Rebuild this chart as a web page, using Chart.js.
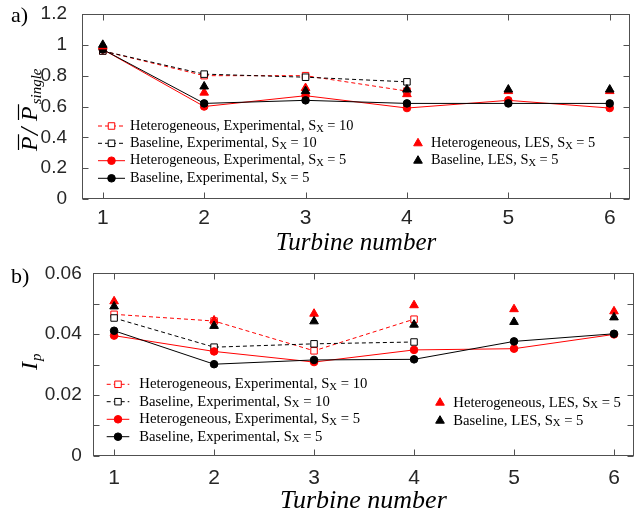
<!DOCTYPE html>
<html>
<head>
<meta charset="utf-8">
<script src="https://cdn.jsdelivr.net/npm/chart.js@4.4.0/dist/chart.umd.min.js"></script>
<style>
  html, body { margin: 0; padding: 0; background: #fff; }
  body { position: relative; width: 636px; height: 517px; overflow: hidden; }
  canvas { position: absolute; left: 0; }
</style>
</head>
<body>
<canvas id="panelA" width="636" height="256" style="top:0"></canvas>
<canvas id="panelB" width="640" height="261" style="top:256px"></canvas>
<script>
// turbine positions along the row
const turbines = [1, 2, 3, 4, 5, 6];

// a) mean power normalised by a single turbine
const powerTicks = [0, 0.2, 0.4, 0.6, 0.8, 1, 1.2];
const powHetExp10 = [0.96, 0.80, 0.80, 0.70];
const powBaseExp10 = [0.96, 0.81, 0.79, 0.76];
const powHetExp5 = [0.97, 0.60, 0.67, 0.59, 0.64, 0.59];
const powBaseExp5 = [0.97, 0.62, 0.64, 0.62, 0.62, 0.62];
const powHetLes5 = [0.99, 0.69, 0.72, 0.68, 0.70, 0.70];
const powBaseLes5 = [1.00, 0.73, 0.70, 0.71, 0.71, 0.71];

// b) power fluctuation intensity
const ipTicks = [0, 0.01, 0.02, 0.03, 0.04, 0.05, 0.06];
const ipTickLabels = ['0', '', '0.02', '', '0.04', '', '0.06'];
const ipHetExp10 = [0.0465, 0.0443, 0.0345, 0.0449];
const ipBaseExp10 = [0.0453, 0.0357, 0.0368, 0.0374];
const ipHetExp5 = [0.0395, 0.0343, 0.0308, 0.0348, 0.0352, 0.0399];
const ipBaseExp5 = [0.0411, 0.0301, 0.0315, 0.0317, 0.0376, 0.0401];
const ipHetLes5 = [0.0508, 0.0445, 0.0467, 0.0495, 0.0482, 0.0475];
const ipBaseLes5 = [0.0491, 0.0427, 0.0442, 0.0431, 0.0440, 0.0455];

const labels = [
  'Heterogeneous, Experimental, S_X = 10',
  'Baseline, Experimental, S_X = 10',
  'Heterogeneous, Experimental, S_X = 5',
  'Baseline, Experimental, S_X = 5',
  'Heterogeneous, LES, S_X = 5',
  'Baseline, LES, S_X = 5'
];

const RED = '#ff0000';
const BLACK = '#000000';
const TICK_COLOR = '#262626';
const BOX_COLOR = '#505050';
const SERIF = '"Liberation Serif", "Times New Roman", serif';
const SANS = '"Liberation Sans", Arial, sans-serif';

function makeDataset(label, values, color, kind, order) {
  const ds = {
    label: label,
    order: order,
    data: values.map((v, i) => ({ x: turbines[i], y: v })),
    borderColor: color,
    pointBorderColor: color,
    borderWidth: 1,
    pointBorderWidth: 1,
    tension: 0,
    fill: false,
    pointHoverRadius: 0
  };
  if (kind === 'dashed') {
    Object.assign(ds, { borderDash: [4, 3], pointStyle: 'rect', pointRadius: 4.6, pointBackgroundColor: '#ffffff', showLine: true });
  } else if (kind === 'solid') {
    Object.assign(ds, { pointStyle: 'circle', pointRadius: 3.8, pointBackgroundColor: color, showLine: true });
  } else {
    Object.assign(ds, { pointStyle: 'triangle', pointRadius: 5, pointBackgroundColor: color, showLine: false });
  }
  return ds;
}

function buildDatasets(het10, base10, het5, base5, hetLes, baseLes) {
  return [
    makeDataset(labels[0], het10, RED, 'dashed', 6),
    makeDataset(labels[1], base10, BLACK, 'dashed', 5),
    makeDataset(labels[2], het5, RED, 'solid', 4),
    makeDataset(labels[3], base5, BLACK, 'solid', 3),
    makeDataset(labels[4], hetLes, RED, 'marker', 2),
    makeDataset(labels[5], baseLes, BLACK, 'marker', 1)
  ];
}

// legend text with the small-caps subscript X
function drawLegendText(ctx, label, x, y, size) {
  const parts = label.split('_X');
  ctx.fillStyle = '#000';
  ctx.textAlign = 'left';
  ctx.textBaseline = 'middle';
  ctx.font = size + 'px ' + SERIF;
  ctx.fillText(parts[0], x, y);
  x += ctx.measureText(parts[0]).width;
  ctx.font = (size * 0.72) + 'px ' + SERIF;
  ctx.fillText('X', x, y + size * 0.2);
  x += ctx.measureText('X').width;
  ctx.font = size + 'px ' + SERIF;
  ctx.fillText(parts[1], x, y);
}

function drawSample(ctx, ds, x0, x1, xm, y) {
  ctx.save();
  if (ds.showLine) {
    ctx.strokeStyle = ds.borderColor;
    ctx.lineWidth = ds.borderWidth;
    ctx.setLineDash(ds.borderDash || []);
    ctx.beginPath();
    ctx.moveTo(x0, y);
    ctx.lineTo(x1, y);
    ctx.stroke();
    ctx.setLineDash([]);
  }
  ctx.fillStyle = ds.pointBackgroundColor;
  ctx.strokeStyle = ds.pointBorderColor;
  ctx.lineWidth = ds.pointBorderWidth;
  Chart.helpers.drawPoint(ctx, { pointStyle: ds.pointStyle, radius: ds.pointRadius, borderWidth: ds.pointBorderWidth, rotation: 0 }, xm, y);
  ctx.restore();
}

// box, inward ticks, legend and axis titles
const panelDecor = {
  id: 'panelDecor',
  afterDatasetsDraw(chart, args, opts) {
    const ctx = chart.ctx;
    const area = chart.chartArea;
    const xs = chart.scales.x, ys = chart.scales.y;
    const L = Math.round(area.left) + 0.5, R = Math.round(area.right) - 0.5;
    const T = Math.round(area.top) + 0.5, B = Math.round(area.bottom) - 0.5;
    ctx.save();
    ctx.strokeStyle = BOX_COLOR;
    ctx.lineWidth = 1;
    ctx.strokeRect(L, T, R - L, B - T);
    ctx.beginPath();
    xs.ticks.forEach(t => {
      const px = Math.round(xs.getPixelForValue(t.value)) + 0.5;
      ctx.moveTo(px, B); ctx.lineTo(px, B - 6);
      ctx.moveTo(px, T); ctx.lineTo(px, T + 6);
    });
    ys.ticks.forEach(t => {
      const py = Math.round(ys.getPixelForValue(t.value)) + 0.5;
      ctx.moveTo(L, py); ctx.lineTo(L + 6, py);
      ctx.moveTo(R, py); ctx.lineTo(R - 6, py);
    });
    ctx.stroke();

    // legend
    const lg = opts.legend;
    const sets = chart.data.datasets;
    lg.left.rows.forEach((ry, i) => {
      drawSample(ctx, sets[i], lg.left.x0, lg.left.x1, lg.left.xm, ry);
      drawLegendText(ctx, sets[i].label, lg.left.text, ry, lg.size);
    });
    lg.right.rows.forEach((ry, i) => {
      const ds = sets[4 + i];
      drawSample(ctx, ds, 0, 0, lg.right.xm, ry);
      drawLegendText(ctx, ds.label, lg.right.text, ry, lg.size);
    });

    // panel tag
    ctx.fillStyle = '#000';
    ctx.textAlign = 'left';
    ctx.textBaseline = 'alphabetic';
    ctx.font = '22px ' + SERIF;
    ctx.fillText(opts.tag.text, opts.tag.x, opts.tag.y);

    // x title
    ctx.textAlign = 'center';
    ctx.font = 'italic ' + opts.xTitle.size + 'px ' + SERIF;
    ctx.fillText('Turbine number', (area.left + area.right) / 2, opts.xTitle.y);

    // y title
    opts.yTitle(ctx, area);
    ctx.restore();
  }
};

function drawPowerTitle(ctx, area) {
  ctx.save();
  ctx.translate(37, 151);
  ctx.rotate(-Math.PI / 2);
  ctx.fillStyle = '#000';
  ctx.strokeStyle = '#000';
  ctx.textAlign = 'left';
  ctx.textBaseline = 'alphabetic';
  ctx.font = 'italic 24px ' + SERIF;
  const wP = ctx.measureText('P').width;
  ctx.fillText('P', 0, 0);
  ctx.font = 'italic 26px ' + SERIF;
  ctx.fillText('/', 16, 1);
  ctx.font = 'italic 24px ' + SERIF;
  ctx.fillText('P', 30, 0);
  ctx.lineWidth = 1.2;
  ctx.beginPath();
  ctx.moveTo(1, -18.5); ctx.lineTo(wP + 2, -18.5);
  ctx.moveTo(31, -18.5); ctx.lineTo(30 + wP + 2, -18.5);
  ctx.stroke();
  ctx.font = 'italic 15px ' + SERIF;
  ctx.fillText('single', 30 + wP + 2, 4);
  ctx.restore();
}

function drawIpTitle(ctx, area) {
  ctx.save();
  ctx.translate(37, 114);
  ctx.rotate(-Math.PI / 2);
  ctx.fillStyle = '#000';
  ctx.textAlign = 'left';
  ctx.textBaseline = 'alphabetic';
  ctx.font = 'italic 24px ' + SERIF;
  ctx.fillText('I', 0, 0);
  const wI = ctx.measureText('I').width;
  ctx.font = 'italic 15px ' + SERIF;
  ctx.fillText('p', wI + 1, 4);
  ctx.restore();
}

function makeChart(canvasId, datasets, cfg) {
  return new Chart(document.getElementById(canvasId).getContext('2d'), {
    type: 'line',
    data: { datasets: datasets },
    plugins: [panelDecor],
    options: {
      responsive: false,
      animation: false,
      events: [],
      layout: { padding: { top: cfg.padTop, right: cfg.padRight, left: 0, bottom: 0 } },
      plugins: {
        legend: { display: false },
        tooltip: { enabled: false },
        panelDecor: cfg.decor
      },
      scales: {
        x: {
          type: 'linear',
          min: cfg.xMin,
          max: cfg.xMax,
          grid: { display: false },
          border: { display: false },
          afterBuildTicks: s => { s.ticks = turbines.map(v => ({ value: v })); },
          ticks: { font: { family: SANS, size: 21 }, color: TICK_COLOR, padding: cfg.xPad, maxRotation: 0, callback: v => String(v) },
          afterFit: s => { s.height = cfg.xHeight; s.paddingLeft = 0; s.paddingRight = 0; }
        },
        y: {
          type: 'linear',
          min: cfg.yTicks[0],
          max: cfg.yTicks[cfg.yTicks.length - 1],
          grid: { display: false },
          border: { display: false },
          afterBuildTicks: s => { s.ticks = cfg.yTicks.map(v => ({ value: v })); },
          ticks: { font: { family: SANS, size: 19 }, color: TICK_COLOR, padding: cfg.yPad, callback: cfg.yLabel },
          afterFit: s => { s.width = cfg.yWidth; s.paddingTop = 0; s.paddingBottom = 0; }
        }
      }
    }
  });
}

makeChart('panelA', buildDatasets(powHetExp10, powBaseExp10, powHetExp5, powBaseExp5, powHetLes5, powBaseLes5), {
  padTop: 14, padRight: 0.5, xMin: 0.795, xMax: 6.2, xHeight: 57, yWidth: 82, xPad: -1.5, yPad: 7,
  yTicks: powerTicks,
  yLabel: v => String(v),
  decor: {
    legend: {
      size: 14.4,
      left: { x0: 98, x1: 125, xm: 111.5, text: 130, rows: [126, 143.3, 160.7, 178.3] },
      right: { xm: 418, text: 431, rows: [143.3, 160.7] }
    },
    tag: { text: 'a)', x: 11, y: 22 },
    xTitle: { size: 25, y: 250 },
    yTitle: drawPowerTitle
  }
});

makeChart('panelB', buildDatasets(ipHetExp10, ipBaseExp10, ipHetExp5, ipBaseExp5, ipHetLes5, ipBaseLes5), {
  padTop: 17.3, padRight: 1.5, xMin: 0.786, xMax: 6.2, xHeight: 61.3, yWidth: 92.7, xPad: 1.5, yPad: 3,
  yTicks: ipTicks,
  yLabel: (v, i) => ipTickLabels[i],
  decor: {
    legend: {
      size: 14.7,
      left: { x0: 106.7, x1: 129.3, xm: 118, text: 139.3, rows: [128.3, 145.7, 163.3, 180.7] },
      right: { xm: 440, text: 453.3, rows: [146.7, 164.7] }
    },
    tag: { text: 'b)', x: 11, y: 27 },
    xTitle: { size: 26, y: 252 },
    yTitle: drawIpTitle
  }
});
</script>
</body>
</html>
